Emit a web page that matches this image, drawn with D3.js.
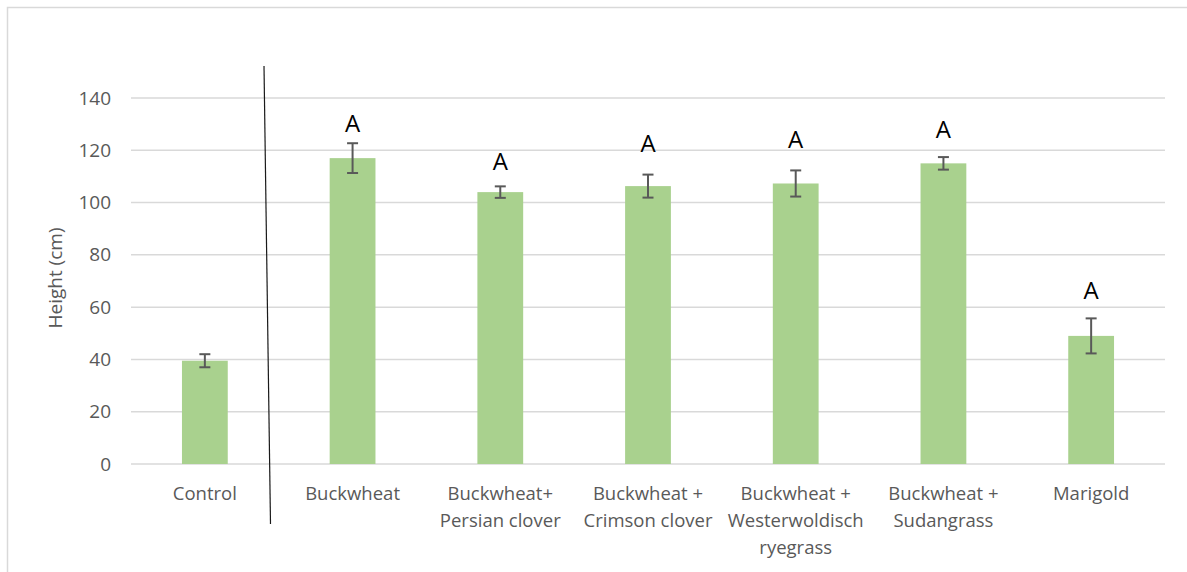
<!DOCTYPE html>
<html>
<head>
<meta charset="utf-8">
<script src="https://cdn.jsdelivr.net/npm/d3@7"></script>
<style>
  html, body { margin: 0; padding: 0; background: #fff; }
  svg { display: block; font-family: "Open Sans", "Noto Sans", sans-serif; }
</style>
</head>
<body>
<svg id="chart" width="1187" height="572"></svg>
<script>
// Treatment categories (multi-line labels split on "\n")
const categories = [
  "Control",
  "Buckwheat",
  "Buckwheat+\nPersian clover",
  "Buckwheat +\nCrimson clover",
  "Buckwheat +\nWesterwoldisch\nryegrass",
  "Buckwheat +\nSudangrass",
  "Marigold"
];
// Mean plant height (cm) and standard error
const heights = [39.5, 117, 104, 106.3, 107.3, 115, 49];
const errors  = [2.5, 5.7, 2.2, 4.4, 5.0, 2.4, 6.7];
// Significance letters (none for the control) and the height (cm) each sits at
const letters = ["", "A", "A", "A", "A", "A", "A"];
const letterLevels = [0, 127, 112.5, 119.4, 120.9, 124.7, 63.1];
const yTicks = [0, 20, 40, 60, 80, 100, 120, 140];

const svg = d3.select("#chart");

// Outer chart frame
svg.append("rect")
  .attr("x", 7.5).attr("y", 7.5)
  .attr("width", 1200).attr("height", 600)
  .attr("fill", "none").attr("stroke", "#d9d9d9").attr("stroke-width", 1.5);

const plot = { left: 131, right: 1165, top: 98, bottom: 464 };

const x = d3.scaleBand()
  .domain(categories)
  .range([plot.left, plot.right])
  .paddingInner(0.69)
  .paddingOuter(0.345);

const y = d3.scaleLinear()
  .domain([0, 140])
  .range([plot.bottom, plot.top]);

// Horizontal gridlines
svg.append("g")
  .selectAll("line")
  .data(yTicks)
  .join("line")
  .attr("x1", plot.left).attr("x2", plot.right)
  .attr("y1", d => y(d)).attr("y2", d => y(d))
  .attr("stroke", "#d9d9d9").attr("stroke-width", 1.5);

// Y axis tick labels
const yAxis = d3.axisLeft(y).tickValues(yTicks).tickSize(0).tickPadding(20);
const gy = svg.append("g")
  .attr("transform", `translate(${plot.left},0)`)
  .call(yAxis);
gy.select(".domain").remove();
gy.selectAll("text")
  .attr("fill", "#595959")
  .style("font-size", "19px")
  .style("font-family", "\"Open Sans\", sans-serif");

// Y axis title
svg.append("text")
  .attr("transform", `translate(62,${(plot.top + plot.bottom) / 2 - 3}) rotate(-90)`)
  .attr("text-anchor", "middle")
  .attr("fill", "#595959")
  .style("font-size", "19px")
  .text("Height (cm)");

const data = categories.map((c, i) => ({
  c, v: heights[i], e: errors[i], l: letters[i], ly: letterLevels[i]
}));

// Bars
svg.append("g")
  .selectAll("rect")
  .data(data)
  .join("rect")
  .attr("x", d => x(d.c))
  .attr("y", d => y(d.v))
  .attr("width", x.bandwidth())
  .attr("height", d => y(0) - y(d.v))
  .attr("fill", "#a9d18e");

// Error bars
const eb = svg.append("g").attr("stroke", "#595959").attr("stroke-width", 2);
data.forEach(d => {
  const cx = x(d.c) + x.bandwidth() / 2;
  eb.append("line").attr("x1", cx).attr("x2", cx)
    .attr("y1", y(d.v + d.e)).attr("y2", y(d.v - d.e));
  [d.v + d.e, d.v - d.e].forEach(v => {
    eb.append("line").attr("x1", cx - 5.5).attr("x2", cx + 5.5)
      .attr("y1", y(v)).attr("y2", y(v));
  });
});

// Significance letters
svg.append("g")
  .selectAll("text")
  .data(data.filter(d => d.l))
  .join("text")
  .attr("x", d => x(d.c) + x.bandwidth() / 2)
  .attr("y", d => y(d.ly))
  .attr("text-anchor", "middle")
  .attr("fill", "#000")
  .style("font-size", "24px")
  .text(d => d.l);

// Category labels
const lab = svg.append("g")
  .selectAll("text")
  .data(categories)
  .join("text")
  .attr("x", d => x(d) + x.bandwidth() / 2)
  .attr("y", 500)
  .attr("text-anchor", "middle")
  .attr("fill", "#595959")
  .style("font-size", "18.5px");
lab.each(function(d) {
  const t = d3.select(this);
  d.split("\n").forEach((line, i) => {
    t.append("tspan")
      .attr("x", x(d) + x.bandwidth() / 2)
      .attr("dy", i === 0 ? 0 : 27)
      .text(line);
  });
});

// Divider separating the control from the treatments
svg.append("line")
  .attr("x1", 264).attr("y1", 66)
  .attr("x2", 270.5).attr("y2", 524)
  .attr("stroke", "#1a1a1a").attr("stroke-width", 1.2);
</script>
</body>
</html>
